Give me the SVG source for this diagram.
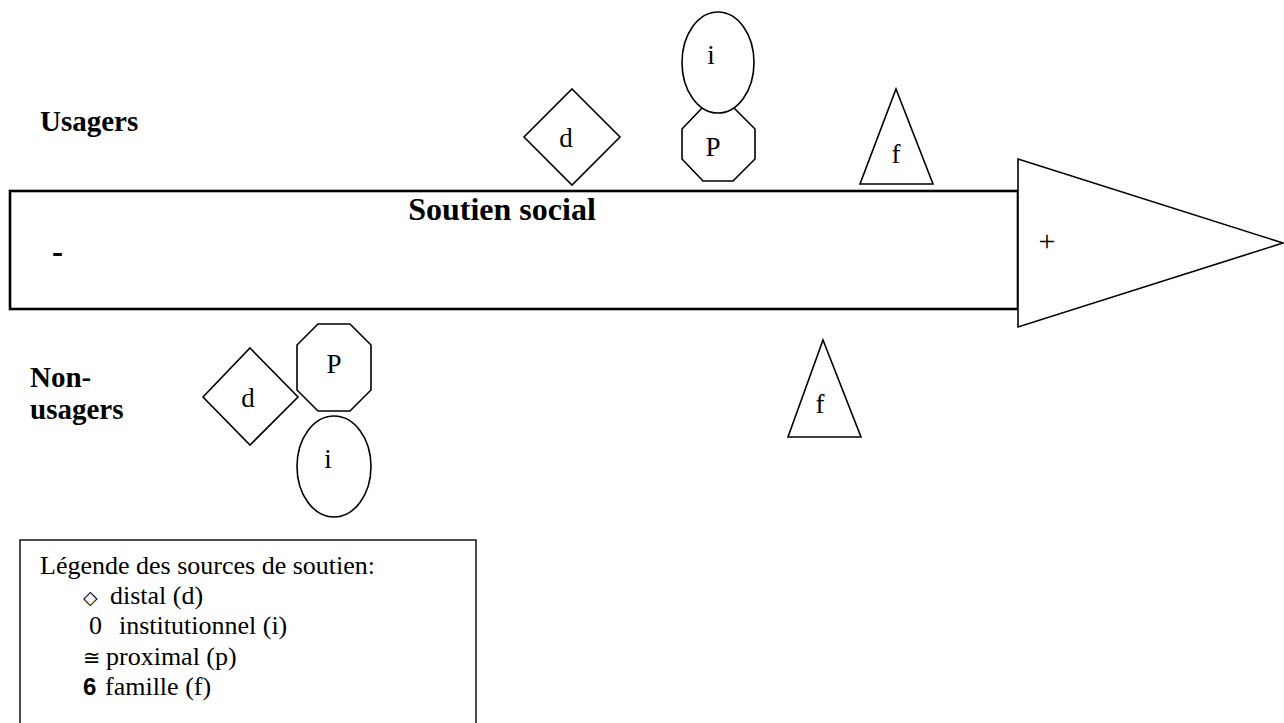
<svg xmlns="http://www.w3.org/2000/svg" width="1284" height="723" viewBox="0 0 1284 723">
<style>
.bg{fill:#fff}
.shape{fill:#fff;stroke:#000;stroke-width:1.6}
.bar{fill:#fff;stroke:#000;stroke-width:2.6}
text{font-family:'Liberation Serif','DejaVu Serif',serif;fill:#000}
.lbl{font-size:27px;text-anchor:middle}
.bold{font-size:29px;font-weight:bold}
.title{font-size:32px;font-weight:bold;text-anchor:middle}
.sign{font-size:30px;text-anchor:middle}
.leg{font-size:26px}
.sym{font-family:'DejaVu Sans',sans-serif}
</style>
<rect class="bg" x="0" y="0" width="1284" height="723"/>
<g id="axis">
  <rect class="bar" x="10" y="191" width="1008" height="118"/>
  <polygon class="shape" points="1018,159 1283,243 1018,327"/>
  <text class="title" x="502" y="220">Soutien social</text>
  <text class="bold" x="52" y="263" style="font-size:33px">-</text>
  <text class="sign" x="1047" y="251">+</text>
</g>
<g id="labels">
  <text class="bold" x="40" y="131">Usagers</text>
  <text class="bold" x="30" y="387">Non-</text>
  <text class="bold" x="30" y="419">usagers</text>
</g>
<g id="u-distal">
  <polygon class="shape" points="572,89 620,137 572,185 524,137"/>
  <text class="lbl" x="566" y="147">d</text>
</g>
<g id="u-proximal">
  <polygon class="shape" points="703,107 733,107 755,129 755,159 733,181 703,181 682,159 682,129"/>
  <text class="lbl" x="713" y="156">P</text>
</g>
<g id="u-institutionnel">
  <ellipse class="shape" cx="718" cy="62.5" rx="36" ry="50.5"/>
  <text class="lbl" x="711" y="64">i</text>
</g>
<g id="u-famille">
  <polygon class="shape" points="896,89 933,184 860,184"/>
  <text class="lbl" x="896" y="163">f</text>
</g>
<g id="n-distal">
  <polygon class="shape" points="250,348 298,397 250,445 203,397"/>
  <text class="lbl" x="248" y="407">d</text>
</g>
<g id="n-proximal">
  <polygon class="shape" points="318,324 350,324 371,345 371,390 350,411 318,411 297,390 297,345"/>
  <text class="lbl" x="334" y="373">P</text>
</g>
<g id="n-institutionnel">
  <ellipse class="shape" cx="334" cy="466.5" rx="37" ry="50.5"/>
  <text class="lbl" x="328" y="468">i</text>
</g>
<g id="n-famille">
  <polygon class="shape" points="823,340 861,437 788,437"/>
  <text class="lbl" x="820" y="413">f</text>
</g>
<g id="legend">
  <rect x="20" y="540" width="456" height="200" fill="#fff" stroke="#000" stroke-width="1.4"/>
  <text class="leg" x="40" y="574">Légende des sources de soutien:</text>
  <text class="leg" x="83" y="604"><tspan class="sym" font-size="19" font-weight="bold">◇</tspan><tspan x="110">distal (d)</tspan></text>
  <text class="leg" x="89" y="634">0<tspan x="119">institutionnel (i)</tspan></text>
  <text class="leg" x="83" y="665"><tspan class="sym" font-size="21">≅</tspan><tspan x="106">proximal (p)</tspan></text>
  <text class="leg" x="83" y="695"><tspan font-family="'Liberation Sans',Arial,sans-serif" font-weight="bold" font-size="24">6</tspan><tspan x="105">famille (f)</tspan></text>
</g>
</svg>
